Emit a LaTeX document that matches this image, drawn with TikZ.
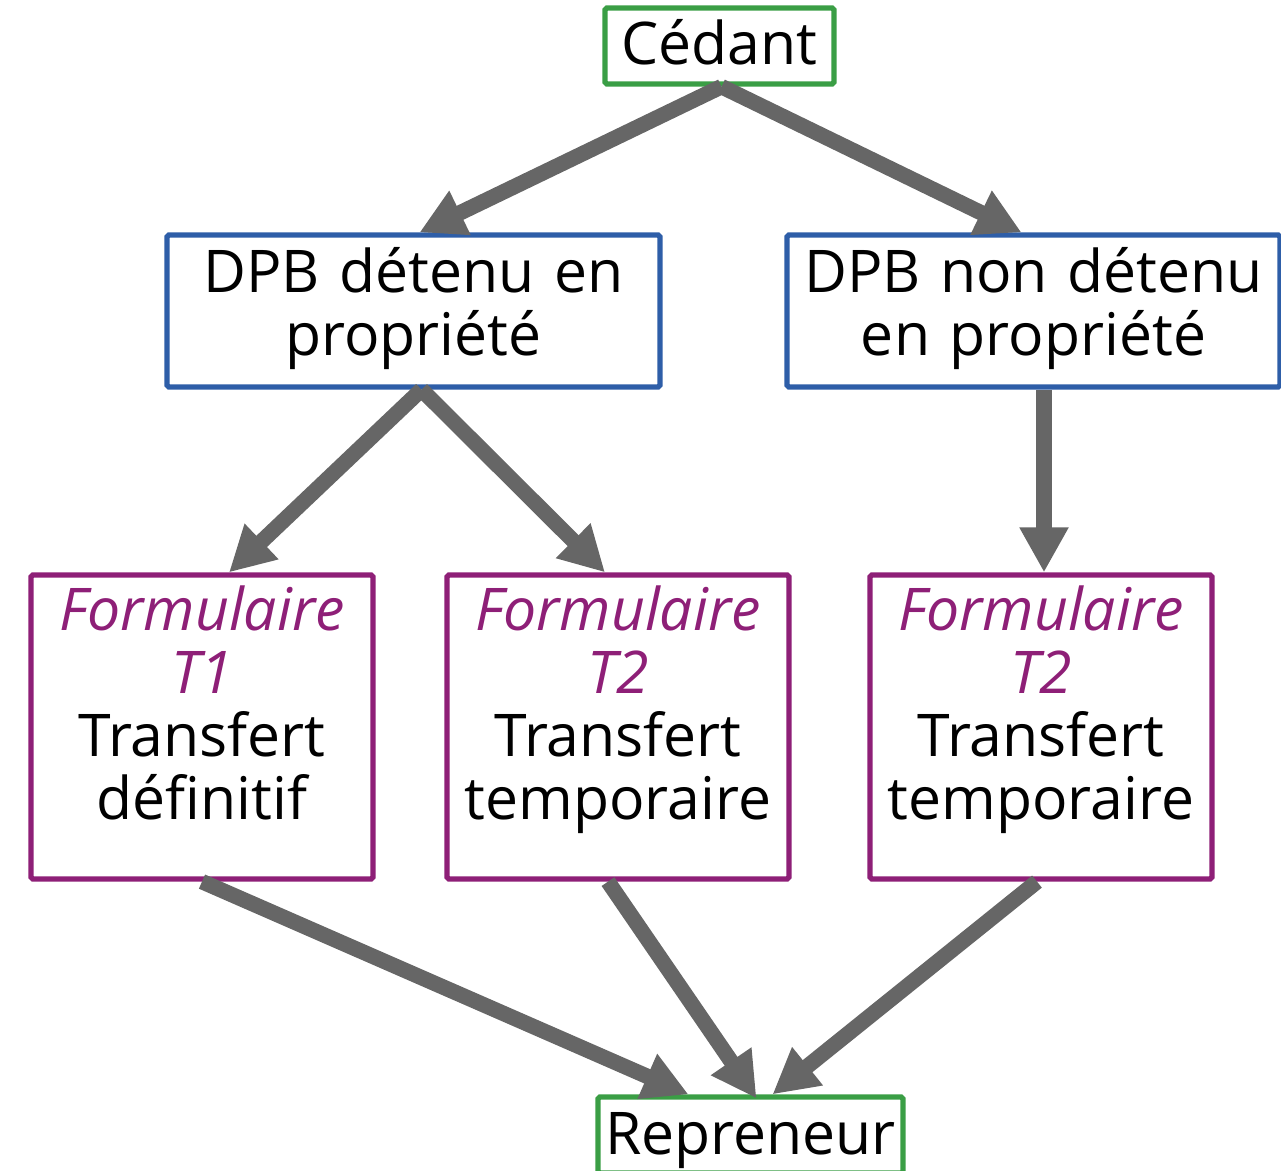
\documentclass[tikz,border=0pt]{standalone}
\usepackage{fontspec}
\setmainfont{Open Sans}
\usetikzlibrary{arrows.meta,calc}
\definecolor{boxgreen}{HTML}{3A9E45}
\definecolor{boxblue}{HTML}{2E5EA8}
\definecolor{boxpurple}{HTML}{8E1F77}
\definecolor{arrgray}{HTML}{666666}

\begin{document}
\begin{tikzpicture}[x=0.02cm,y=-0.02cm]
	\tikzstyle{box} = [draw, line width=3pt, rounded corners=1pt, inner sep=0pt, align=center, text=black, font=\fontsize{33.5}{36}\selectfont]
	\tikzstyle{endbox} = [box, draw=boxgreen, text height=1.14cm, text depth=0.38cm]
	\tikzstyle{dpbbox} = [box, draw=boxblue, text width=9.86cm, text height=1.14cm, text depth=1.9cm]
	\tikzstyle{formbox} = [box, draw=boxpurple, text width=6.84cm, text height=1.1cm, text depth=4.98cm]
	\tikzstyle{arr} = [arrgray, line width=8.8pt, -{Triangle[width=0.92cm,length=0.9cm]}]
	\newcommand{\form}[1]{{\color{boxpurple}\itshape Formulaire\\#1}}
	\useasboundingbox (0,0) rectangle (1281,1170);
	\node[endbox, minimum width=4.58cm] (ced) at (719.5,46) {Cédant};
	\node[dpbbox] (dpbA) at (413.5,311) {DPB détenu en\\propriété};
	\node[dpbbox] (dpbB) at (1033.5,311) {DPB non détenu\\en propriété};
	\node[formbox] (tA) at (202,727) {\form{T1}\\Transfert\\définitif};
	\node[formbox] (tB) at (618,727) {\form{T2}\\Transfert\\temporaire};
	\node[formbox] (tC) at (1041,727) {\form{T2}\\Transfert\\temporaire};
	\node[endbox, minimum width=6.1cm] (rep) at (750.5,1135) {Repreneur};
	% arrows drawn over the boxes
	\draw[arr] ($(ced.south)+(2,0)$) -- ($(dpbA.north)+(6,0)$);
	\draw[arr] ($(ced.south)+(2,0)$) -- ($(dpbB.north)+(-12,0)$);
	\draw[arr] ($(dpbA.south)+(8,0)$) -- ($(tA.north)+(27,0)$);
	\draw[arr] ($(dpbA.south)+(8,0)$) -- ($(tB.north)+(-13,0)$);
	\draw[arr] ($(dpbB.south -| tC.north)+(3,0)$) -- ($(tC.north)+(3,0)$);
	\draw[arr] (tA.south) -- ($(rep.north)+(-62,0)$);
	\draw[arr] ($(tB.south)+(-10,0)$) -- ($(rep.north)+(6,4)$);
	\draw[arr] ($(tC.south)+(-4,0)$) -- ($(rep.north)+(22,0)$);
\end{tikzpicture}
\end{document}
